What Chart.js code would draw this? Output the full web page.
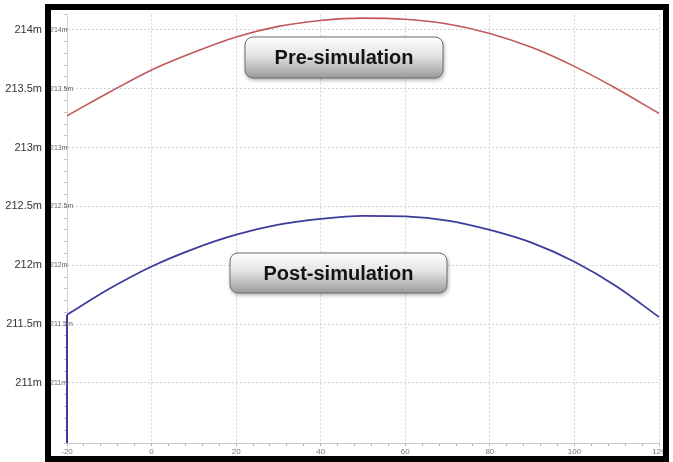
<!DOCTYPE html>
<html>
<head>
<meta charset="utf-8">
<script src="https://cdn.jsdelivr.net/npm/chart.js@4"></script>
<style>
  html, body { margin: 0; padding: 0; background: #fff; }
</style>
</head>
<body>
<canvas id="myChart" width="673" height="462"></canvas>
<script>
// x positions (same for both runs)
const xValues = [-20, -10, 0, 10, 20, 30, 40, 50, 60, 70, 80, 90, 100, 110, 120];
// water level (m) before and after the simulation
const preSim  = [213.27, 213.47, 213.66, 213.81, 213.94, 214.03, 214.08, 214.10, 214.09, 214.05, 213.97, 213.85, 213.69, 213.50, 213.29];
const postSim = [211.58, 211.80, 211.99, 212.14, 212.26, 212.345, 212.395, 212.42, 212.415, 212.38, 212.30, 212.19, 212.03, 211.82, 211.56];
// the post run starts with a vertical jump at x = -20
const postStartX = [-20, -20];
const postStartY = [210.49, 211.58];

const xMin = -20, xMax = 120;
const yMin = 210.49, yMax = 214.13;

Chart.defaults.font.family = "'Liberation Sans', Arial, sans-serif";

function toPoints(xs, ys) {
  return xs.map((x, i) => ({ x: x, y: ys[i] }));
}
function isHalf(v) { return Math.abs(v * 2 - Math.round(v * 2)) < 1e-6; }
function isMajorX(v) { return Math.abs(v % 20) < 1e-6; }
function metreLabel(v) {
  return (isHalf(v) && v > 210.9 && v < 214.05) ? (+v.toFixed(1)) + 'm' : '';
}

// the two grey labels
const tags = [
  { text: 'Pre-simulation',  x: 245, y: 37,  w: 198, h: 41 },
  { text: 'Post-simulation', x: 230, y: 253, w: 217, h: 40 }
];

const tagPlugin = {
  id: 'tags',
  afterDraw(chart) {
    const ctx = chart.ctx;
    // small labels of the inner axis, they run into the plot so draw them here
    const ys = chart.scales.y;
    ctx.save();
    ctx.fillStyle = '#666';
    ctx.font = "7px 'Liberation Sans', Arial, sans-serif";
    ctx.textAlign = 'left';
    ctx.textBaseline = 'middle';
    ys.ticks.forEach(t => {
      const s = metreLabel(t.value);
      if (s) ctx.fillText(s, ys.left, ys.getPixelForValue(t.value));
    });
    ctx.restore();

    tags.forEach(t => {
      ctx.save();
      ctx.shadowColor = 'rgba(0,0,0,0.35)';
      ctx.shadowBlur = 4;
      ctx.shadowOffsetX = 1;
      ctx.shadowOffsetY = 2;
      const g = ctx.createLinearGradient(0, t.y, 0, t.y + t.h);
      g.addColorStop(0, '#fdfdfd');
      g.addColorStop(0.45, '#e4e4e4');
      g.addColorStop(1, '#9a9a9a');
      ctx.fillStyle = g;
      ctx.beginPath();
      ctx.roundRect(t.x, t.y, t.w, t.h, 8);
      ctx.fill();
      ctx.shadowColor = 'transparent';
      ctx.strokeStyle = '#6e6e6e';
      ctx.lineWidth = 1;
      ctx.stroke();
      ctx.fillStyle = '#141414';
      ctx.font = "bold 20px 'Liberation Sans', Arial, sans-serif";
      ctx.textAlign = 'center';
      ctx.textBaseline = 'middle';
      ctx.fillText(t.text, t.x + t.w / 2, t.y + t.h / 2 + 1);
      ctx.restore();
    });
    // black frame round the screenshot
    ctx.save();
    ctx.strokeStyle = '#000';
    ctx.lineWidth = 6;
    ctx.strokeRect(48, 7, 618, 452);
    ctx.restore();
  }
};

new Chart(document.getElementById('myChart'), {
  type: 'scatter',
  data: {
    datasets: [
      {
        label: 'Pre-simulation',
        data: toPoints(xValues, preSim),
        showLine: true,
        borderColor: 'rgb(192,88,90)',
        borderWidth: 1.6,
        pointRadius: 0,
        cubicInterpolationMode: 'monotone'
      },
      {
        label: 'Post-simulation',
        data: toPoints(xValues, postSim),
        showLine: true,
        borderColor: 'rgb(60,60,155)',
        borderWidth: 1.8,
        pointRadius: 0,
        cubicInterpolationMode: 'monotone'
      },
      {
        label: 'Post-simulation start',
        data: toPoints(postStartX, postStartY),
        showLine: true,
        borderColor: 'rgb(60,60,155)',
        borderWidth: 2,
        pointRadius: 0,
        clip: false
      }
    ]
  },
  options: {
    responsive: false,
    animation: false,
    layout: { padding: { left: 0, top: 11, right: 14, bottom: 0 } },
    plugins: { legend: { display: false }, tooltip: { enabled: false } },
    scales: {
      x: {
        type: 'linear',
        min: xMin,
        max: xMax,
        afterFit(scale) { scale.height = 19; },
        ticks: {
          stepSize: 4,
          autoSkip: false,
          maxRotation: 0,
          minRotation: 0,
          padding: 1,
          color: '#777',
          font: { size: 8 },
          callback: v => isMajorX(v) ? v : ''
        },
        grid: {
          color: c => (c.tick && isMajorX(c.tick.value)) ? '#d2d2d2' : 'rgba(0,0,0,0)',
          tickColor: '#aaa',
          tickLength: 3
        },
        border: { display: true, color: '#c8c8c8', dash: [2, 2] }
      },
      y: {
        type: 'linear',
        position: 'left',
        weight: 0,
        min: yMin,
        max: yMax,
        afterFit(scale) { scale.width = 17; },
        ticks: {
          display: false,
          stepSize: 0.1,
          autoSkip: false
        },
        grid: {
          color: c => (c.tick && isHalf(c.tick.value)) ? '#d2d2d2' : 'rgba(0,0,0,0)',
          tickColor: '#c4c4c4',
          tickLength: 3
        },
        border: { display: true, color: '#d2d2d2', dash: [2, 2] }
      },
      yOuter: {
        type: 'linear',
        position: 'left',
        weight: 1,
        min: yMin,
        max: yMax,
        afterFit(scale) { scale.width = 50; },
        ticks: {
          stepSize: 0.5,
          autoSkip: false,
          padding: 8,
          color: '#333',
          font: { size: 11 },
          callback: metreLabel
        },
        grid: { display: false, drawTicks: false },
        border: { display: false }
      }
    }
  },
  plugins: [tagPlugin]
});
</script>
</body>
</html>
